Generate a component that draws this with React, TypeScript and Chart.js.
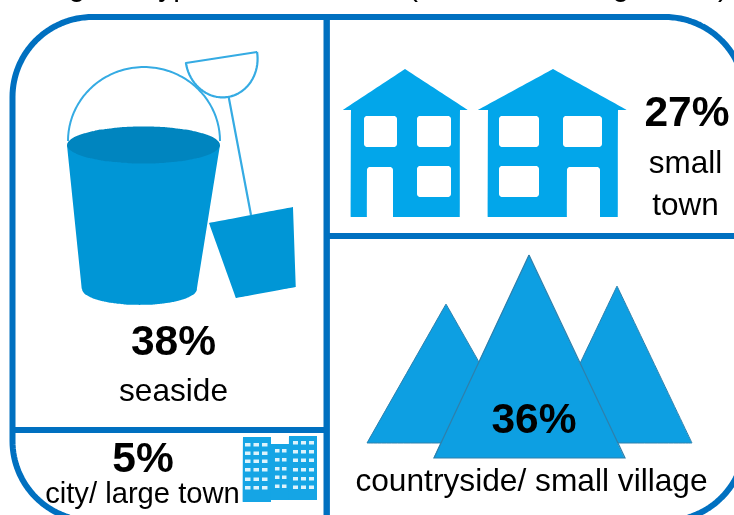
import React, { useEffect, useRef } from "react";
import { Chart, registerables } from "chart.js";

Chart.register(...registerables);

// Survey shares shown in each panel
const categories = ["seaside", "small town", "countryside/ small village", "city/ large town"];
const shares = [38, 27, 36, 5];

type Pt = { x: number; y: number };

const FRAME = "#0070C0";
const SAND = "#0096D6";
const SAND_DARK = "#0085BF";
const OUTLINE = "#35ABE3";
const HOUSE = "#02A6EA";
const PEAK = "#0D9FE2";
const PEAK_EDGE = "#2E80AC";
const TOWER = "#15A5E5";
const PANE = "#DDF3FC";
const WHITE = "#FFFFFF";

// A tiny tension keeps every vertex; the straight-line path merges points in one pixel column
const CRISP = 0.00001;

const pts = (...c: number[]): Pt[] => {
  const out: Pt[] = [];
  for (let i = 0; i < c.length; i += 2) out.push({ x: c[i], y: c[i + 1] });
  return out;
};

const arc = (cx: number, cy: number, rx: number, ry: number, from: number, to: number, n = 48): Pt[] => {
  const out: Pt[] = [];
  for (let i = 0; i <= n; i++) {
    const t = ((from + ((to - from) * i) / n) * Math.PI) / 180;
    out.push({ x: cx + rx * Math.cos(t), y: cy + ry * Math.sin(t) });
  }
  return out;
};

const closed = (p: Pt[]): Pt[] => [...p, p[0]];

const roundedBox = (l: number, t: number, r: number, b: number, c = 3): Pt[] =>
  closed([
    ...arc(l + c, t + c, c, c, 180, 270, 6),
    ...arc(r - c, t + c, c, c, 270, 360, 6),
    ...arc(r - c, b - c, c, c, 0, 90, 6),
    ...arc(l + c, b - c, c, c, 90, 180, 6),
  ]);

const doorway = (l: number, t: number, r: number, b: number, c = 3): Pt[] =>
  closed([...arc(l + c, t + c, c, c, 180, 270, 6), ...arc(r - c, t + c, c, c, 270, 360, 6), { x: r, y: b }, { x: l, y: b }]);

const plain = (l: number, t: number, r: number, b: number): Pt[] => pts(l, t, r, t, r, b, l, b, l, t);

const filled = (data: Pt[], color: string, edge = color, width = 0) => ({
  data,
  showLine: true,
  fill: "shape",
  backgroundColor: color,
  borderColor: edge,
  borderWidth: width,
  pointRadius: 0,
  tension: CRISP,
  capBezierPoints: false,
});

const stroked = (data: Pt[], color: string, width: number) => ({
  data,
  showLine: true,
  fill: false,
  borderColor: color,
  borderWidth: width,
  borderJoinStyle: "round",
  pointRadius: 0,
  tension: CRISP,
  capBezierPoints: false,
});

// Bucket and spade
const bucketShapes = () => {
  const ux = 71 / 71.85;
  const uy = -11 / 71.85;
  const vx = 11 / 71.85;
  const vy = 71 / 71.85;
  const blade: Pt[] = [];
  for (let i = 0; i <= 40; i++) {
    const t = (i * Math.PI) / 40;
    const a = 36 * Math.cos(t);
    const b = 40 * Math.sin(t);
    blade.push({ x: 221.5 + a * ux + b * vx, y: 57.5 + a * uy + b * vy });
  }
  return [
    stroked(arc(144, 141, 76, 74, 180, 360), OUTLINE, 2),
    stroked(closed(blade), OUTLINE, 2.2),
    stroked(pts(228.5, 96, 251, 215), OUTLINE, 2.2),
    filled(closed(pts(209, 223, 293, 207, 296, 287, 236, 298)), SAND),
    filled(
      closed([{ x: 67, y: 145 }, { x: 82, y: 289 }, ...arc(139.5, 289, 57.5, 16, 180, 0, 24), { x: 220, y: 145 }]),
      SAND,
    ),
    filled(closed(arc(143.5, 145, 76.5, 18.5, 0, 360, 64)), SAND_DARK),
  ];
};

const houseShapes = () => [
  filled(closed(pts(405, 69, 468, 110, 460, 110, 460, 217, 351, 217, 351, 110, 343, 110)), HOUSE),
  filled(roundedBox(364, 116, 397, 147), WHITE),
  filled(roundedBox(417, 116, 451, 147), WHITE),
  filled(roundedBox(417, 166, 451, 197), WHITE),
  filled(doorway(367, 167, 393, 217), WHITE),
  filled(closed(pts(553, 69, 627, 110, 618, 110, 618, 217, 488, 217, 488, 110, 478, 110)), HOUSE),
  filled(roundedBox(499, 116, 539, 147), WHITE),
  filled(roundedBox(563, 116, 602, 147), WHITE),
  filled(roundedBox(499, 166, 539, 197), WHITE),
  filled(doorway(567, 167, 600, 217), WHITE),
];

const peakShapes = () => [
  filled(closed(pts(446, 304, 525, 443, 367, 443)), PEAK, PEAK_EDGE, 1),
  filled(closed(pts(617, 286, 692, 443, 542, 443)), PEAK, PEAK_EDGE, 1),
  filled(closed(pts(529, 255, 625, 458, 434, 458)), PEAK, PEAK_EDGE, 1.2),
];

const towerShapes = () => {
  const out = [
    filled(plain(243, 437, 271, 502), TOWER),
    filled(plain(271, 444, 289, 500), TOWER),
    filled(plain(289, 436, 317, 500), TOWER),
  ];
  const panes = (cols: number[], rows: number[], w: number) => {
    for (const c of cols) for (const r of rows) out.push(filled(plain(c, r, c + w, r + 3.5), PANE));
  };
  panes([245, 253.5, 262], [443, 451.5, 459.5, 468, 477.5, 486], 5.5);
  panes([275, 282], [449, 458, 467, 475.5, 484.5], 4.5);
  panes([293, 301, 309], [441, 450, 458.5, 468, 477, 485.5], 5);
  return out;
};

const frameShapes = () => {
  const outline = [
    ...arc(92.5, 97, 80, 80, 180, 270, 32),
    ...arc(665, 97, 80, 80, 270, 360, 32),
    ...arc(665, 441, 80, 80, 0, 90, 32),
    ...arc(92.5, 441, 80, 80, 90, 180, 32),
  ];
  return [
    stroked(closed(outline), FRAME, 6),
    stroked(pts(326.7, 17, 326.7, 521), FRAME, 6.4),
    stroked(pts(327, 236, 745, 236), FRAME, 6),
    stroked(pts(12, 430, 327, 430), FRAME, 6),
  ];
};

// Where each panel's share and caption lines sit, in canvas units
const placements = [
  { share: [173.5, 355], lines: [[173.5, 400.7]], size: 31.6, split: false },
  { share: [687, 126], lines: [[685.5, 172.7], [685.5, 215]], size: 31.5, split: true },
  { share: [534, 432.7], lines: [[531.5, 490.7]], size: 31.7, split: false },
  { share: [143, 472], lines: [[142.5, 503]], size: 29.2, split: false },
];

// Descenders of the heading line that runs off the top edge
const headingParts = [
  { text: "g", x: 77 },
  { text: "yp", x: 174 },
  { text: "(", x: 413 },
  { text: "g", x: 621 },
  { text: ")", x: 723 },
];

const labelPlugin = {
  id: "panelLabels",
  afterDatasetsDraw(chart: any) {
    const { ctx, scales } = chart;
    const px = (v: number) => scales.x.getPixelForValue(v);
    const py = (v: number) => scales.y.getPixelForValue(v);
    ctx.save();
    ctx.fillStyle = "#000000";
    ctx.textAlign = "center";
    ctx.textBaseline = "alphabetic";
    shares.forEach((value, i) => {
      const place = placements[i];
      ctx.font = 'bold 42.5px "Liberation Sans"';
      ctx.fillText(`${value}%`, px(place.share[0]), py(place.share[1]));
      ctx.font = `${place.size}px "Liberation Sans"`;
      const words = place.split ? categories[i].split(" ") : [categories[i]];
      words.forEach((word, k) => ctx.fillText(word, px(place.lines[k][0]), py(place.lines[k][1])));
    });
    ctx.font = '30px "Liberation Sans"';
    headingParts.forEach((part) => ctx.fillText(part.text, px(part.x), py(-4)));
    ctx.restore();
  },
};

export default function App() {
  const ref = useRef<HTMLCanvasElement>(null);

  useEffect(() => {
    const shapes = [...frameShapes(), ...bucketShapes(), ...houseShapes(), ...peakShapes(), ...towerShapes()];
    // Later shapes paint over earlier ones
    const datasets = shapes.map((s, i) => ({ ...s, order: shapes.length - i, clip: false }));
    const chart = new Chart(ref.current as HTMLCanvasElement, {
      type: "scatter",
      data: { datasets } as any,
      plugins: [labelPlugin],
      options: {
        animation: false,
        responsive: false,
        events: [],
        layout: { padding: 0 },
        plugins: { legend: { display: false }, tooltip: { enabled: false }, title: { display: false } },
        scales: {
          x: { type: "linear", min: 0, max: 734, display: false },
          y: { type: "linear", min: 0, max: 515, reverse: true, display: false },
        },
      },
    } as any);
    return () => chart.destroy();
  }, []);

  return (
    <canvas
      ref={ref}
      width={734}
      height={515}
      style={{ position: "fixed", left: 0, top: 0, display: "block", background: "#FFFFFF" }}
    />
  );
}
